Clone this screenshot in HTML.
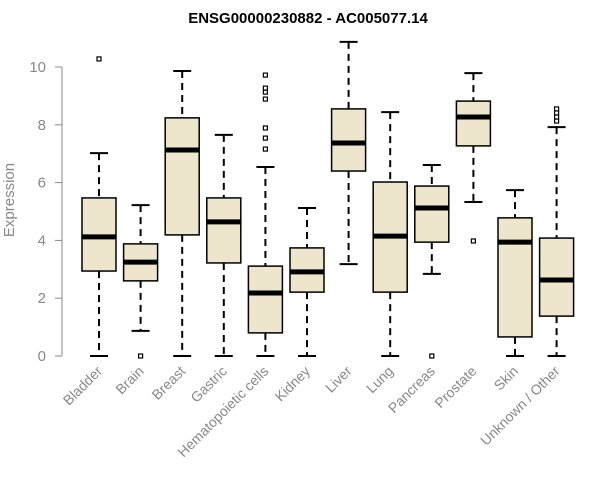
<!DOCTYPE html>
<html><head><meta charset="utf-8"><style>
body{margin:0;background:#fff}
svg{display:block;font-family:"Liberation Sans",Arial,sans-serif}
</style></head><body>
<svg id="chart" width="600" height="500">
<text x="308" y="23" text-anchor="middle" font-weight="bold" font-size="15">ENSG00000230882 - AC005077.14</text>
<text transform="translate(14,200) rotate(-90)" text-anchor="middle" font-size="15" fill="#888">Expression</text>
<g id="yaxis"></g>
<g id="boxes"></g>
<g id="xlabels"></g>
</svg>
<script>
const categories=["Bladder","Brain","Breast","Gastric","Hematopoietic cells","Kidney","Liver","Lung","Pancreas","Prostate","Skin","Unknown / Other"];
const whiskerLow=[0,0.87,0,0,0,0,3.18,0,2.84,5.33,0,0];
const q1=[2.94,2.6,4.19,3.22,0.8,2.21,6.4,2.21,3.94,7.27,0.66,1.38];
const medians=[4.12,3.25,7.13,4.64,2.18,2.91,7.37,4.15,5.12,8.27,3.94,2.63];
const q3=[5.47,3.88,8.24,5.47,3.11,3.74,8.55,6.02,5.88,8.82,4.78,4.08];
const whiskerHigh=[7.02,5.22,9.86,7.65,6.54,5.12,10.87,8.44,6.61,9.79,5.74,7.92];
const outliers=[[10.28],[0],[],[],[9.72,9.27,9.13,8.89,7.89,7.54,7.16],[],[],[],[0],[3.98],[],[8.55,8.41,8.27,8.13]];
const yTicks=[0,2,4,6,8,10];
const NS="http://www.w3.org/2000/svg";
const y=v=>356-v*28.9;
const x=i=>99+i*41.6;
function mk(t,a,p){const e=document.createElementNS(NS,t);for(const k in a)e.setAttribute(k,a[k]);p.appendChild(e);return e;}
const ya=document.getElementById('yaxis');
const axl=mk('line',{x1:62,x2:62,y1:y(0),y2:y(10),stroke:'#888'},ya);


yTicks.forEach(t=>{
 const l=mk('line',{x1:55,x2:62,y1:y(t),y2:y(t),stroke:'#888'},ya);
 
 
 const tx=mk('text',{x:46,y:y(t)+5,'text-anchor':'end','font-size':15,fill:'#888'},ya);
 tx.textContent=t;
 
 
});
const bx=document.getElementById('boxes');
const xl=document.getElementById('xlabels');
categories.forEach((c,i)=>{
 const cx=x(i);
 const g=mk('g',{},bx);
 
 
 mk('line',{x1:cx,x2:cx,y1:y(whiskerHigh[i]),y2:y(q3[i]),stroke:'#000','stroke-width':2,'stroke-dasharray':'7,5'},g);
 mk('line',{x1:cx,x2:cx,y1:y(q1[i]),y2:y(whiskerLow[i]),stroke:'#000','stroke-width':2,'stroke-dasharray':'7,5'},g);
 mk('line',{x1:cx-9,x2:cx+9,y1:y(whiskerHigh[i]),y2:y(whiskerHigh[i]),stroke:'#000','stroke-width':2},g);
 mk('line',{x1:cx-9,x2:cx+9,y1:y(whiskerLow[i]),y2:y(whiskerLow[i]),stroke:'#000','stroke-width':2},g);
 mk('rect',{x:cx-17,y:y(q3[i]),width:34,height:y(q1[i])-y(q3[i]),fill:'#ede6cd',stroke:'#000','stroke-width':1.5},g);
 mk('line',{x1:cx-17,x2:cx+17,y1:y(medians[i]),y2:y(medians[i]),stroke:'#000','stroke-width':5},g);
 outliers[i].forEach(o=>{mk('rect',{x:cx-2,y:y(o)-2,width:4,height:4,fill:'none',stroke:'#000','stroke-width':1.2},g);});
 const t=mk('text',{x:cx+4,y:372,'text-anchor':'end','font-size':14,fill:'#888',transform:`rotate(-45 ${cx+4} 372)`},xl);
 t.textContent=c;
 
 
});
</script>
</body></html>
